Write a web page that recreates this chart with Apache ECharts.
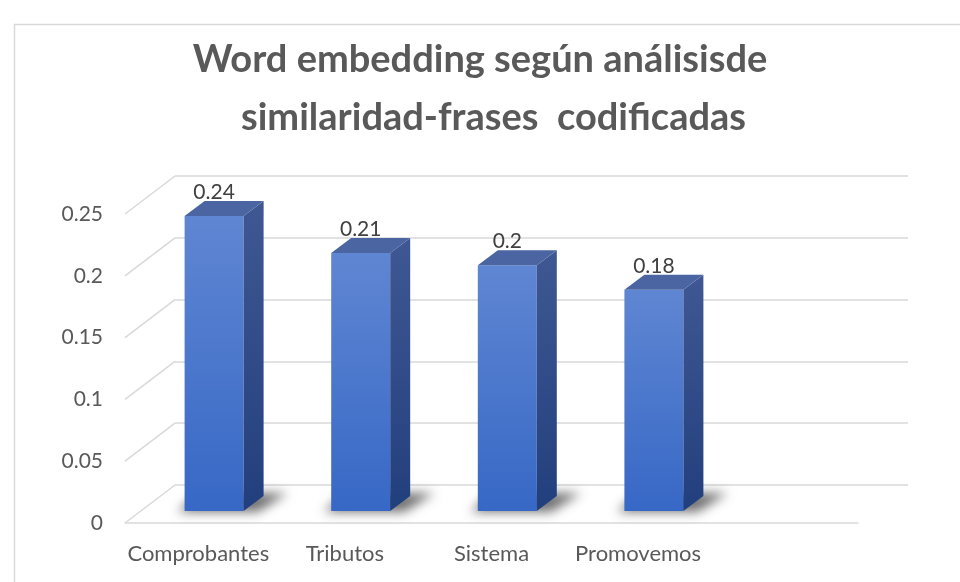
<!DOCTYPE html>
<html>
<head>
<meta charset="utf-8">
<script src="https://cdn.jsdelivr.net/npm/echarts@6/dist/echarts.min.js"></script>
<style>
html,body{margin:0;padding:0;background:#fff;}
#chart{width:960px;height:582px;}
</style>
</head>
<body>
<div id="chart"></div>
<script>
const titleLines = ['Word embedding según análisisde', 'similaridad-frases  codificadas'];
const categories = ['Comprobantes', 'Tributos', 'Sistema', 'Promovemos'];
const values = [0.24, 0.21, 0.2, 0.18];
const yTicks = [0, 0.05, 0.1, 0.15, 0.2, 0.25];
const tickLabels = ['0', '0.05', '0.1', '0.15', '0.2', '0.25'];

const xCats = categories.concat(['']);
const GRID_COLOR = '#d9d9d9';
const DEPTH_X = 50, DEPTH_Y = 38;

const chart = echarts.init(document.getElementById('chart'), null, {renderer: 'canvas'});

function tickLabel(v) {
  let best = 0;
  for (let i = 0; i < yTicks.length; i++) {
    if (Math.abs(yTicks[i] - v) < Math.abs(yTicks[best] - v)) best = i;
  }
  return tickLabels[best];
}

function renderDiag(params, api) {
  const p = api.coord([0, api.value(1)]);
  const x = params.coordSys.x;
  return {
    type: 'line',
    shape: {x1: x, y1: p[1], x2: x + DEPTH_X, y2: p[1] - DEPTH_Y},
    style: {stroke: GRID_COLOR, lineWidth: 1.5}
  };
}

function renderBar(params, api) {
  const i = api.value(0), v = api.value(1);
  const top = api.coord([i, v]);
  const base = api.coord([i, 0]);
  const c = top[0];
  const w = 59, dx = 20, dy = 15;
  const x0 = c - w / 2, x1 = c + w / 2;
  const ty = top[1], by = base[1];
  const OFF = 3000;
  return {
    type: 'group',
    children: [
      {
        type: 'polygon',
        shape: {points: [[x0 - 7 - OFF, by + 1], [x1 + 14 - OFF, by + 1], [x1 + dx + 24 - OFF, by - dy - 3], [x0 + dx - 6 - OFF, by - dy - 3]]},
        style: {fill: 'rgba(0,0,0,0.7)', shadowBlur: 11, shadowColor: 'rgba(0,0,0,0.8)', shadowOffsetX: OFF, shadowOffsetY: 0}
      },
      {
        type: 'rect',
        shape: {x: x0, y: ty, width: w, height: by - ty},
        style: {fill: new echarts.graphic.LinearGradient(0, 0, 0, 1, [
          {offset: 0, color: '#5f86d2'}, {offset: 1, color: '#3768c6'}
        ])}
      },
      {
        type: 'polygon',
        shape: {points: [[x1, ty], [x1 + dx, ty - dy], [x1 + dx, by - dy], [x1, by]]},
        style: {fill: new echarts.graphic.LinearGradient(0, 0, 0, 1, [
          {offset: 0, color: '#3f5893'}, {offset: 1, color: '#223f7d'}
        ])}
      },
      {
        type: 'polygon',
        shape: {points: [[x0, ty], [x0 + dx, ty - dy], [x1 + dx, ty - dy], [x1, ty]]},
        style: {fill: '#4a65a1'}
      },
      {
        type: 'text',
        style: {
          x: c, y: ty - dy - 9,
          text: String(v),
          align: 'center', verticalAlign: 'middle',
          fontFamily: 'Lato', fontSize: 21, fill: '#404040'
        }
      }
    ]
  };
}

const option = {
  backgroundColor: '#ffffff',
  animation: false,
  graphic: [{
    type: 'rect', left: 12, top: 22, silent: true,
    shape: {width: 1100, height: 700},
    style: {fill: 'none', stroke: GRID_COLOR, lineWidth: 1.5}
  }],
  title: [
    {text: titleLines[0], left: 'center', top: 36,
     textStyle: {fontFamily: 'Lato', fontWeight: 'bold', fontSize: 38, color: '#595959'}},
    {text: titleLines[1], left: 236, top: 94,
     textStyle: {fontFamily: 'Lato', fontWeight: 'bold', fontSize: 38, color: '#595959'}}
  ],
  grid: [
    {left: 125, width: 733, top: 214, height: 309},
    {left: 175, width: 733, top: 176, height: 309},
    {left: 140.8, width: 733, top: 203.75, height: 307.25}
  ],
  xAxis: [
    {gridIndex: 0, type: 'category', data: xCats, boundaryGap: true,
     axisLine: {show: true, lineStyle: {color: GRID_COLOR, width: 1.5}},
     axisTick: {show: false},
     axisLabel: {margin: 20, fontFamily: 'Lato', fontSize: 22, color: '#595959', interval: 0}},
    {gridIndex: 1, type: 'category', data: xCats, show: false},
    {gridIndex: 2, type: 'category', data: xCats, show: false}
  ],
  yAxis: [
    {gridIndex: 0, type: 'value', min: 0, max: 0.25, interval: 0.05,
     axisLine: {show: false}, axisTick: {show: false}, splitLine: {show: false},
     axisLabel: {margin: 22, fontFamily: 'Lato', fontSize: 21, color: '#595959', formatter: tickLabel}},
    {gridIndex: 1, type: 'value', min: 0, max: 0.25, interval: 0.05,
     axisLine: {show: false}, axisTick: {show: false}, axisLabel: {show: false},
     splitLine: {show: true, lineStyle: {color: GRID_COLOR, width: 1.5}}},
    {gridIndex: 2, type: 'value', min: 0, max: 0.25, show: false}
  ],
  series: [
    {type: 'custom', xAxisIndex: 0, yAxisIndex: 0, renderItem: renderDiag,
     data: yTicks.map(v => [0, v]), silent: true, z: 1},
    {type: 'custom', xAxisIndex: 2, yAxisIndex: 2, renderItem: renderBar,
     data: values.map((v, i) => [i, v]), z: 3}
  ]
};
chart.setOption(option);
</script>
</body>
</html>
